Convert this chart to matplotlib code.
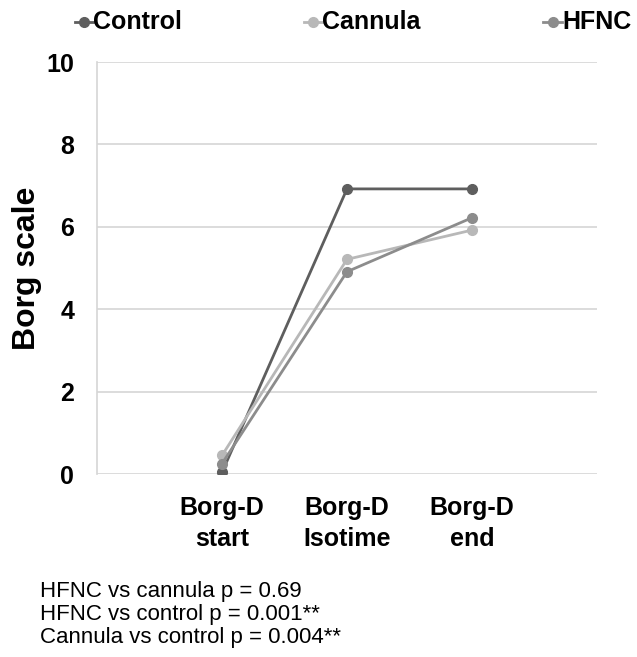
import matplotlib
matplotlib.use("Agg")
import matplotlib.pyplot as plt
from matplotlib.lines import Line2D

categories = ["Borg-D\nstart", "Borg-D\nIsotime", "Borg-D\nend"]
control = [0.04, 6.92, 6.92]
cannula = [0.45, 5.21, 5.92]
hfnc = [0.25, 4.91, 6.22]
series_names = ["Control", "Cannula", "HFNC"]
colors = ["#5e5e5e", "#b8b8b8", "#8c8c8c"]
yticks = [0, 2, 4, 6, 8, 10]
footnote = ["HFNC vs cannula p = 0.69",
            "HFNC vs control p = 0.001**",
            "Cannula vs control p = 0.004**"]

plt.rcParams['font.family'] = ['Liberation Sans', 'DejaVu Sans']

fig = plt.figure(figsize=(6.37, 6.57), dpi=100)
W, H = 637, 657
ax = fig.add_axes([97 / W, (H - 474) / H, 500 / W, (474 - 62) / H])

x = list(range(len(categories)))
for vals, c, name in zip([control, cannula, hfnc], colors, series_names):
    ax.plot(x, vals, color=c, lw=2.0, marker='o', ms=7, label=name, zorder=3)

ax.set_xlim(-1, 3)
ax.set_ylim(0, 10)
ax.set_yticks(yticks)
ax.set_yticklabels([str(t) for t in yticks], fontsize=18, fontweight='bold')
ax.set_xticks(x)
ax.set_xticklabels(categories, fontsize=18, fontweight='bold', linespacing=1.35)
ax.tick_params(axis='both', length=0)
ax.tick_params(axis='y', pad=16.5)
ax.tick_params(axis='x', pad=16)
ax.yaxis.grid(True, color='#d5d5d5', lw=1.2)
ax.set_axisbelow(True)
for s in ['top', 'right', 'bottom']:
    ax.spines[s].set_visible(False)
ax.spines['left'].set_color('#d5d5d5')
ax.spines['left'].set_linewidth(1.2)
ax.set_ylabel("Borg scale", fontsize=23, fontweight='bold', labelpad=3)

# legend across top: (line start, line end) in pixels
leg_pos = [(75, 93), (304, 322), (543, 562)]
ly = 1 - 22 / H
for (x0, x1), c, name in zip(leg_pos, colors, series_names):
    fig.add_artist(Line2D([x0 / W, x1 / W], [ly, ly],
                          color=c, lw=2, transform=fig.transFigure))
    fig.add_artist(Line2D([(x0 + x1) / 2 / W], [ly], marker='o', ms=7,
                          color=c, transform=fig.transFigure))
    fig.text(x1 / W, ly, name, fontsize=18, fontweight='bold',
             va='center', ha='left')

for i, line in enumerate(footnote):
    fig.text(40 / W, 1 - (591 + i * 23.5) / H, line, fontsize=16,
             va='center', ha='left')

fig.savefig("out.png", dpi=100)
